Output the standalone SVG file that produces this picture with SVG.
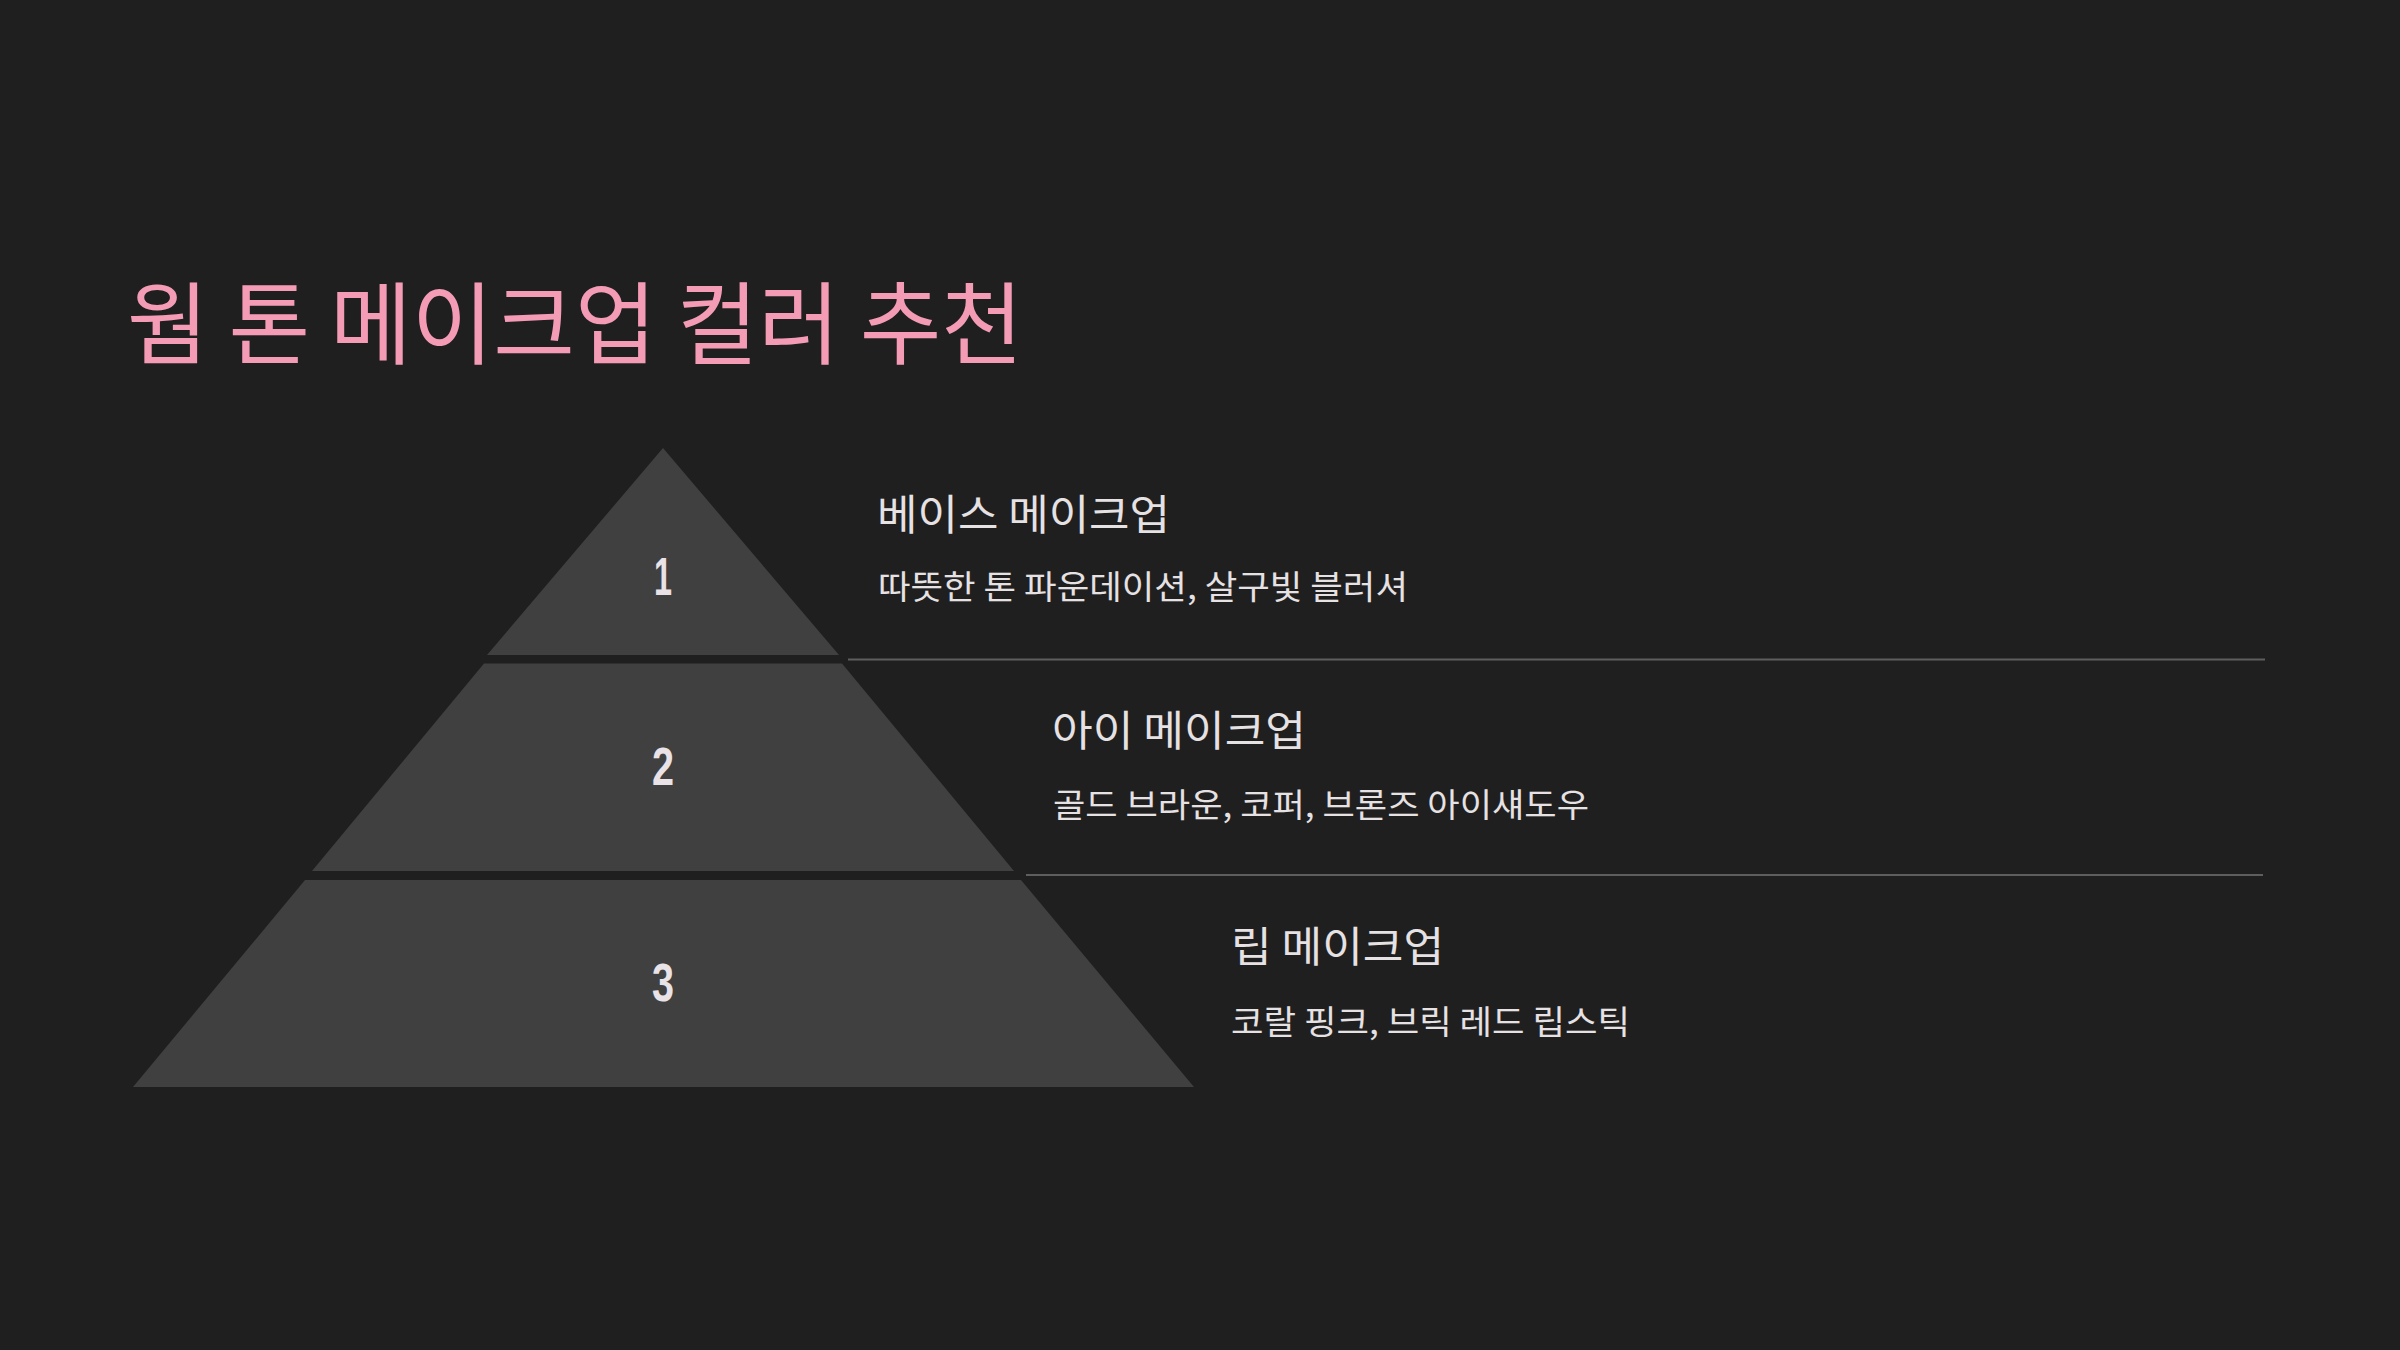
<svg xmlns="http://www.w3.org/2000/svg" width="2400" height="1350" viewBox="0 0 2400 1350">
<style>
.bg{fill:#1f1f1f}
.tier{fill:#404040}
.num{font-family:"Liberation Sans","DejaVu Sans",sans-serif;font-weight:700;font-size:54px;fill:#e9e3e7;text-anchor:middle}
.title{font-family:"Noto Sans CJK KR","Noto Sans",sans-serif;font-size:90px;fill:#f49bb6}
.head{font-family:"Noto Sans CJK KR","Noto Sans",sans-serif;font-size:42px;fill:#e6e1e3}
.sub{font-family:"Noto Sans CJK KR","Noto Sans",sans-serif;font-size:33px;fill:#e6e1e3}
.sep{stroke:#5e5e5e;stroke-width:2;fill:none}
</style>
<rect class="bg" x="0" y="0" width="2400" height="1350"/>
<g id="title">
<text class="title" x="127" y="357" textLength="896" lengthAdjust="spacingAndGlyphs">웜 톤 메이크업 컬러 추천</text>
</g>
<g id="connectors">
<line class="sep" x1="848" y1="659.5" x2="2265" y2="659.5"/>
<line class="sep" x1="1026" y1="875" x2="2263" y2="875"/>
</g>
<g id="tier1">
<polygon class="tier" points="663,448 839,655 487,655"/>
<text class="num" x="663" y="595" textLength="18" lengthAdjust="spacingAndGlyphs">1</text>
<text class="head" x="877" y="530" textLength="293" lengthAdjust="spacingAndGlyphs">베이스 메이크업</text>
<text class="sub" x="878" y="599" textLength="530" lengthAdjust="spacingAndGlyphs">따뜻한 톤 파운데이션, 살구빛 블러셔</text>
</g>
<g id="tier2">
<polygon class="tier" points="484,663.5 842,663.5 1014,871 312,871"/>
<text class="num" x="663" y="785" textLength="22" lengthAdjust="spacingAndGlyphs">2</text>
<text class="head" x="1052" y="746" textLength="254" lengthAdjust="spacingAndGlyphs">아이 메이크업</text>
<text class="sub" x="1053" y="817" textLength="536" lengthAdjust="spacingAndGlyphs">골드 브라운, 코퍼, 브론즈 아이섀도우</text>
</g>
<g id="tier3">
<polygon class="tier" points="305,880 1021,880 1194,1087 133,1087"/>
<text class="num" x="663" y="1001" textLength="22" lengthAdjust="spacingAndGlyphs">3</text>
<text class="head" x="1231" y="962" textLength="213" lengthAdjust="spacingAndGlyphs">립 메이크업</text>
<text class="sub" x="1231" y="1034" textLength="399" lengthAdjust="spacingAndGlyphs">코랄 핑크, 브릭 레드 립스틱</text>
</g>
</svg>
